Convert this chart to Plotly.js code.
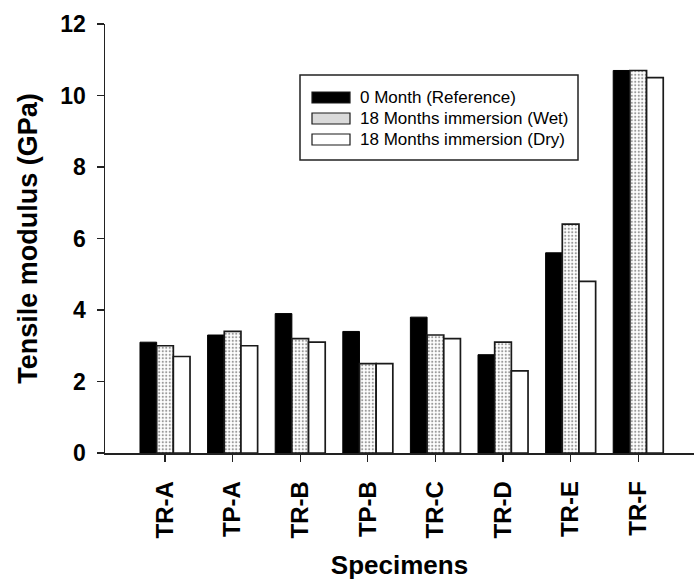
<!DOCTYPE html>
<html>
<head>
<meta charset="utf-8">
<script src="https://cdn.plot.ly/plotly-3.0.1.min.js"></script>
<style>
  html, body { margin: 0; padding: 0; background: #fff; }
  #chart { width: 694px; height: 583px; }
</style>
</head>
<body>
<div id="chart"></div>
<script>
// ---- data ----
const categories = ['TR-A', 'TP-A', 'TR-B', 'TP-B', 'TR-C', 'TR-D', 'TR-E', 'TR-F'];
const seriesNames = ['0 Month (Reference)', '18 Months immersion (Wet)', '18 Months immersion (Dry)'];
const refValues = [3.1, 3.3, 3.9, 3.4, 3.8, 2.75, 5.6, 10.7];
const wetValues = [3.0, 3.4, 3.2, 2.5, 3.3, 3.1, 6.4, 10.7];
const dryValues = [2.7, 3.0, 3.1, 2.5, 3.2, 2.3, 4.8, 10.5];
const yTickValues = [0, 2, 4, 6, 8, 10, 12];

// ---- layout constants (pixels) ----
const W = 694, H = 583;
const M = { l: 105, r: 0, t: 24, b: 130 };
const plotW = W - M.l - M.r, plotH = H - M.t - M.b;
const px2x = p => (p - M.l) / plotW;
const py2y = p => (H - M.b - p) / plotH;
const FONT = 'Liberation Sans, Arial, Helvetica, sans-serif';
const OUTLINE = '#1a1a1a';

const traces = [
  { type: 'bar', name: seriesNames[0], x: categories, y: refValues,
    marker: { color: '#000000', line: { color: '#000000', width: 1 } } },
  { type: 'bar', name: seriesNames[1], x: categories, y: wetValues,
    marker: { color: '#ffffff', line: { color: OUTLINE, width: 1.7 },
      pattern: { shape: '.', size: 3.5, solidity: 0.3, fgcolor: '#9a9a9a', bgcolor: '#ffffff' } } },
  { type: 'bar', name: seriesNames[2], x: categories, y: dryValues,
    marker: { color: '#ffffff', line: { color: OUTLINE, width: 1.7 } } }
];

// ---- custom legend (box + swatches + labels) ----
const shapes = [];
const annotations = [];
shapes.push({ type: 'rect', xref: 'paper', yref: 'paper',
  x0: px2x(300), x1: px2x(578), y0: py2y(160), y1: py2y(75),
  line: { color: '#222', width: 1.5 }, fillcolor: 'rgba(255,255,255,0)' });
const swatchFill = ['#000000', '#dadada', '#ffffff'];
const rowTop = [92, 113, 134];
for (let i = 0; i < seriesNames.length; i++) {
  shapes.push({ type: 'rect', xref: 'paper', yref: 'paper',
    x0: px2x(312), x1: px2x(350), y0: py2y(rowTop[i] + 11), y1: py2y(rowTop[i]),
    line: { color: OUTLINE, width: 1.2 }, fillcolor: swatchFill[i] });
  annotations.push({ xref: 'paper', yref: 'paper', x: px2x(358), y: py2y(rowTop[i] + 5.5),
    xanchor: 'left', yanchor: 'middle', showarrow: false, text: seriesNames[i],
    font: { family: FONT, size: 17, color: '#000' } });
}

const layout = {
  width: W, height: H,
  margin: M,
  paper_bgcolor: '#ffffff', plot_bgcolor: '#ffffff',
  showlegend: false,
  barmode: 'group', bargap: 0.26, bargroupgap: 0,
  font: { family: FONT, color: '#000' },
  xaxis: {
    type: 'category', range: [-0.8876, 7.825], autorange: false,
    showline: true, linecolor: '#222', linewidth: 1.5, mirror: false,
    showgrid: false, zeroline: false,
    ticks: 'outside', ticklen: 7, tickwidth: 1.3, tickcolor: '#222',
    tickangle: -90, ticklabelstandoff: 10,
    tickfont: { family: FONT, size: 24, color: '#000', weight: 'bold' },
    title: { text: '<b>Specimens</b>', standoff: 18, font: { family: FONT, size: 26, color: '#000' } },
    automargin: false
  },
  yaxis: {
    range: [0, 12], autorange: false,
    tickvals: yTickValues, ticktext: yTickValues.map(String),
    showline: true, linecolor: '#222', linewidth: 1.5, mirror: false,
    showgrid: false, zeroline: false,
    ticks: 'outside', ticklen: 7, tickwidth: 1.3, tickcolor: '#222',
    ticklabelstandoff: 6,
    tickfont: { family: FONT, size: 23, color: '#000', weight: 'bold' },
    title: { text: '<b>Tensile modulus (GPa)</b>', standoff: 15, font: { family: FONT, size: 27, color: '#000' } },
    automargin: false
  },
  shapes: shapes,
  annotations: annotations
};

Plotly.newPlot('chart', traces, layout, { displayModeBar: false, staticPlot: true });
</script>
</body>
</html>
